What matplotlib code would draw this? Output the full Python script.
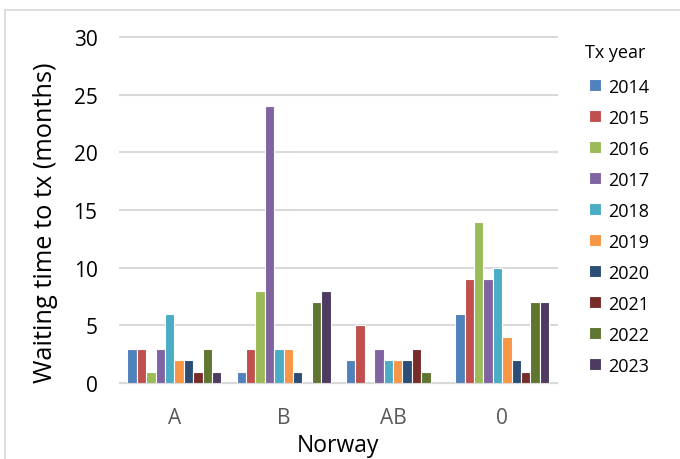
import numpy as np
import matplotlib.pyplot as plt
from matplotlib.lines import Line2D

# blood groups on x axis, one bar per transplant year
groups = ['A', 'B', 'AB', '0']
years = ['2014', '2015', '2016', '2017', '2018', '2019', '2020', '2021', '2022', '2023']

wait_A = [3, 3, 1, 3, 6, 2, 2, 1, 3, 1]
wait_B = [1, 3, 8, 24, 3, 3, 1, 0, 7, 8]
wait_AB = [2, 5, 0, 3, 2, 2, 2, 3, 1, 0]
wait_0 = [6, 9, 14, 9, 10, 4, 2, 1, 7, 7]

colors = ['#4F81BD', '#C0504D', '#9BBB59', '#8064A2', '#4BACC6',
          '#F79646', '#2C4D75', '#772C2A', '#5F7530', '#4D3B62']

plt.rcParams['font.family'] = ['Open Sans', 'DejaVu Sans']

data = np.array([wait_A, wait_B, wait_AB, wait_0])  # groups x years

fig = plt.figure(figsize=(6.8, 4.6), dpi=100)
ax = fig.add_axes([0.176, 0.165, 0.643, 0.752])

x = np.arange(len(groups))
n = len(years)
w = 0.086
for i in range(n):
    ax.bar(x + (i - (n - 1) / 2) * w, data[:, i], width=w, color=colors[i],
           edgecolor='white', linewidth=0.8, label=years[i], zorder=3)

ax.set_xlim(-0.5, 3.5)
ax.set_ylim(0, 30)
ax.set_yticks(range(0, 31, 5))
ax.set_xticks(x)
ax.set_xticklabels(groups, color='#595959', fontsize=15)
ax.tick_params(axis='y', labelsize=15, length=0, pad=16)
ax.tick_params(axis='x', length=0, pad=17)
ax.grid(axis='y', color='#d9d9d9', linewidth=1.5, zorder=0)
for g in ax.get_ygridlines():
    g.set_clip_on(False)
for s in ['top', 'right', 'left']:
    ax.spines[s].set_visible(False)
ax.spines['bottom'].set_color('#d9d9d9')
ax.spines['bottom'].set_linewidth(1.5)

ax.set_ylabel('Waiting time to tx (months)', fontsize=18.3)
ax.yaxis.set_label_coords(-0.142, 0.465)
ax.set_xlabel('Norway', fontsize=16.5, labelpad=4)

fig.text(585 / 680, 1 - 53 / 460, 'Tx year', fontsize=13, ha='left', va='center')
leg = ax.legend(loc='upper left', bbox_to_anchor=(585 / 680, 1 - 75 / 460),
                bbox_transform=fig.transFigure, frameon=False, fontsize=13,
                handlelength=0.67, handleheight=0.67, handletextpad=0.4,
                labelspacing=0.72, borderaxespad=0, borderpad=0.2)

# light frame around chart area
fig.add_artist(Line2D([0.0074, 0.0074], [0, 0.976], color='#d9d9d9', linewidth=1.2))
fig.add_artist(Line2D([0.0074, 1.0], [0.976, 0.976], color='#d9d9d9', linewidth=1.2))

plt.savefig('out.png', dpi=100)
